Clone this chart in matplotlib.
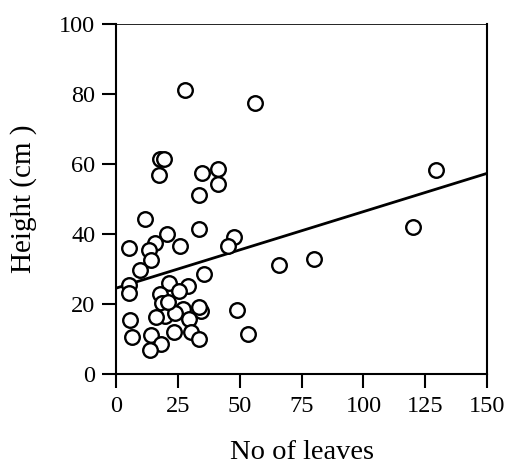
import matplotlib
matplotlib.use('Agg')
import matplotlib.pyplot as plt
import numpy as np

# 叶片数与株高
leaves = [28.0, 56.0, 17.6, 19.4, 17.4, 34.7, 41.2, 41.2, 33.6,
          11.9, 33.6, 20.7, 15.6, 25.9, 5.3, 13.3, 14.3, 9.6, 35.6,
          47.7, 45.4, 65.7, 80.1, 120.0, 129.4, 48.7, 53.4,
          21.6, 29.0, 17.6, 25.4, 18.7, 27.0, 34.3, 33.5, 19.6, 16.3,
          29.4, 23.6, 30.3, 33.6, 14.3, 18.3, 13.9, 5.6, 6.3, 5.3, 5.3,
          24.0, 21.0]
height = [81.0, 77.3, 61.3, 61.3, 56.7, 57.3, 58.5, 54.3, 51.2,
          44.2, 41.3, 39.9, 37.5, 36.6, 35.9, 35.4, 32.6, 29.7, 28.6,
          39.0, 36.6, 31.1, 32.8, 41.9, 58.3, 18.3, 11.4,
          25.9, 25.0, 22.9, 23.8, 20.2, 18.5, 17.9, 19.0, 16.6, 16.4,
          15.6, 12.1, 12.1, 9.9, 11.1, 8.6, 6.9, 15.4, 10.5, 25.4, 23.0,
          17.5, 20.5]

# 回归线两端 (x=0 与 x=150)
fit_x = [0, 150]
fit_y = [24.5, 57.3]

xticks = [0, 25, 50, 75, 100, 125, 150]
yticks = [0, 20, 40, 60, 80, 100]

plt.rcParams['font.family'] = ['Liberation Serif', 'DejaVu Serif']

fig = plt.figure(figsize=(5.09, 4.68), dpi=100)
ax = fig.add_axes([0.228, 0.201, 0.729, 0.748])

ax.plot(fit_x, fit_y, color='black', lw=2.0, zorder=2, solid_capstyle='butt')
ax.plot(leaves, height, 'o', ms=10.5, mfc='white', mec='black', mew=1.7, zorder=3)

ax.set_xlim(0, 150)
ax.set_ylim(0, 100)
ax.set_xticks(xticks)
ax.set_yticks(yticks)
ax.tick_params(direction='out', length=10, width=1.5, labelsize=17.5)
ax.tick_params(axis='x', pad=6)
ax.tick_params(axis='y', pad=5)

for s in ['left', 'bottom', 'right']:
    ax.spines[s].set_linewidth(1.5)
ax.spines['top'].set_linewidth(0.6)

ax.set_xlabel('No of leaves', fontsize=20.5, va='center')
ax.set_ylabel('Height (cm )', fontsize=21, va='center')
ax.xaxis.set_label_coords(0.5, -0.225)
ax.yaxis.set_label_coords(-0.248, 0.5)

plt.savefig('out.png', dpi=100)
